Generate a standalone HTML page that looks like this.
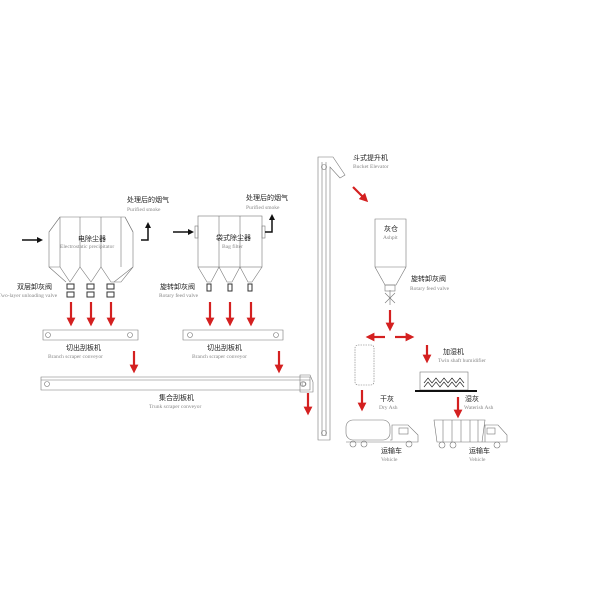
<!DOCTYPE html><html><head><meta charset="utf-8"><style>body{margin:0;background:#fff}svg{display:block}
.t{font-family:"Liberation Sans","Noto Sans CJK SC",sans-serif;font-size:7px;fill:#222}
.e{font-family:"Liberation Serif",serif;font-size:5.5px;fill:#888}
</style></head><body>
<svg width="605" height="605" viewBox="0 0 605 605" xmlns="http://www.w3.org/2000/svg">
<defs>
<marker id="r" markerWidth="4" markerHeight="4" refX="2" refY="2" orient="auto" markerUnits="strokeWidth"><path d="M0,0L4,2L0,4z" fill="#d42020"/></marker>
<marker id="k" markerWidth="4" markerHeight="4" refX="2" refY="2" orient="auto" markerUnits="strokeWidth"><path d="M0,0L4,2L0,4z" fill="#111"/></marker>
</defs>
<g fill="none" stroke="#777" stroke-width="0.6">
<!-- ESP -->
<path d="M60,217H125L133,232V267L121,282L111,282L101,267L91,282L80,267L70,282L60,267L49,267V232Z"/>
<path d="M49,267L66,282M133,267L114,282M60,217V267M80,217V267M101,217V267M121,217V267M49,232L60,217M133,232L125,217"/>
<!-- Bag filter -->
<rect x="198" y="216" width="64" height="51"/>
<path d="M219,216V267M240,216V267M198,267L207,282L211,282L219,267L227,282L232,282L240,267L248,282L252,282L262,267"/>
<rect x="195" y="226" width="3" height="12"/><rect x="262" y="226" width="3" height="12"/>
<!-- branch conveyors -->
<path d="M43,330H138V340H43Z M183,330H283V340H183Z"/>
<circle cx="48" cy="335" r="2.5"/><circle cx="130" cy="335" r="2.5"/>
<circle cx="190" cy="335" r="2.5"/><circle cx="276" cy="335" r="2.5"/>
<!-- trunk -->
<path d="M41,377H310V390H41Z M41,380H310"/>
<circle cx="47" cy="384" r="2.5"/><circle cx="303" cy="384" r="2.5"/>
<!-- elevator -->
<path d="M318,157H333L345,175L340,178L330,167V440H318Z M322,162V436 M326,162V436"/>
<circle cx="324" cy="167" r="2.5"/><circle cx="324" cy="433" r="2.5"/>
<path d="M300,375H310L313,382V392H300Z"/><circle cx="304" cy="384" r="2"/>
<!-- ashpit -->
<path d="M375,219H406V267L396,285H385L375,267Z M375,267H406"/>
<rect x="385" y="285" width="10" height="6"/><path d="M385,293L395,303M395,293L385,303M390,290V305"/>
<rect x="355" y="345" width="19" height="40" rx="3" stroke-dasharray="1.5,1"/>
<!-- humidifier -->
<rect x="420" y="372" width="48" height="18"/>
<!-- trucks -->
<rect x="346" y="420" width="44" height="20" rx="7"/><path d="M390,440H392V425H408L418,435V442H346"/><rect x="399" y="428" width="9" height="6"/>
<circle cx="353" cy="444" r="3"/><circle cx="364" cy="444" r="3"/><circle cx="409" cy="444" r="3"/>
<path d="M434,420H485L482,442H437Z M443,420V442M452,420V442M461,420V442M470,420V442M478,420V442 M485,442V425H498L507,435V442H437"/><rect x="487" y="428" width="8" height="6"/>
<circle cx="442" cy="445" r="3"/><circle cx="453" cy="445" r="3"/><circle cx="497" cy="445" r="3"/>
</g>
<path d="M424,383l4,-5l4,5l4,-5l4,5l4,-5l4,5l4,-5l4,5l4,-5l4,5 M424,387l4,-5l4,5l4,-5l4,5l4,-5l4,5l4,-5l4,5l4,-5l4,5" fill="none" stroke="#222" stroke-width="0.7"/>
<path d="M415,391H477" stroke="#111" stroke-width="2"/>
<!-- valves -->
<g fill="#fff" stroke="#333" stroke-width="1">
<rect x="67" y="284" width="7" height="5"/><rect x="67" y="292" width="7" height="5"/>
<rect x="87" y="284" width="7" height="5"/><rect x="87" y="292" width="7" height="5"/>
<rect x="107" y="284" width="7" height="5"/><rect x="107" y="292" width="7" height="5"/>
<rect x="207" y="284" width="4" height="7"/><rect x="228" y="284" width="4" height="7"/><rect x="248" y="284" width="4" height="7"/>
</g>
<!-- black arrows -->
<g stroke="#111" stroke-width="1.5" fill="none">
<path d="M22,240H40" marker-end="url(#k)"/><path d="M141,240H148V225" marker-end="url(#k)"/>
<path d="M173,232H191" marker-end="url(#k)"/><path d="M265,232H272V217" marker-end="url(#k)"/>
</g>
<!-- red arrows -->
<g stroke="#d42020" stroke-width="2.2" fill="none">
<path d="M71,302V322" marker-end="url(#r)"/><path d="M91,302V322" marker-end="url(#r)"/><path d="M111,302V322" marker-end="url(#r)"/>
<path d="M210,302V322" marker-end="url(#r)"/><path d="M230,302V322" marker-end="url(#r)"/><path d="M251,302V322" marker-end="url(#r)"/>
<path d="M134,351V369" marker-end="url(#r)"/><path d="M279,351V369" marker-end="url(#r)"/>
<path d="M308,393V411" marker-end="url(#r)"/>
<path d="M353,187L365,199" marker-end="url(#r)"/>
<path d="M390,310V327" marker-end="url(#r)"/>
<path d="M385,337H370" marker-end="url(#r)"/><path d="M395,337H410" marker-end="url(#r)"/>
<path d="M362,390V407" marker-end="url(#r)"/><path d="M427,345V359" marker-end="url(#r)"/><path d="M458,397V414" marker-end="url(#r)"/>
</g>
<!-- text -->
<text class="t" x="127" y="202">处理后的烟气</text><text class="e" x="127" y="211">Purified smoke</text>
<text class="t" x="246" y="200">处理后的烟气</text><text class="e" x="246" y="209">Purified smoke</text>
<text class="t" x="78" y="241">电除尘器</text><text class="e" x="60" y="248">Electrostatic precipitator</text>
<text class="t" x="216" y="240">袋式除尘器</text><text class="e" x="222" y="248">Bag filter</text>
<text class="t" x="17" y="289">双层卸灰阀</text><text class="e" x="-2" y="297">Two-layer unloading valve</text>
<text class="t" x="160" y="289">旋转卸灰阀</text><text class="e" x="159" y="297">Rotary feed valve</text>
<text class="t" x="66" y="350">切出刮板机</text><text class="e" x="48" y="358">Branch scraper conveyor</text>
<text class="t" x="207" y="350">切出刮板机</text><text class="e" x="192" y="358">Branch scraper conveyor</text>
<text class="t" x="159" y="400">集合刮板机</text><text class="e" x="149" y="408">Trunk scraper conveyor</text>
<text class="t" x="353" y="160">斗式提升机</text><text class="e" x="353" y="168">Bucket Elevator</text>
<text class="t" x="384" y="231">灰仓</text><text class="e" x="383" y="239">Ashpit</text>
<text class="t" x="411" y="281">旋转卸灰阀</text><text class="e" x="410" y="290">Rotary feed valve</text>
<text class="t" x="443" y="354">加湿机</text><text class="e" x="438" y="362">Twin shaft humidifier</text>
<text class="t" x="380" y="401">干灰</text><text class="e" x="379" y="409">Dry Ash</text>
<text class="t" x="465" y="401">湿灰</text><text class="e" x="464" y="409">Waterish Ash</text>
<text class="t" x="381" y="453">运输车</text><text class="e" x="381" y="461">Vehicle</text>
<text class="t" x="469" y="453">运输车</text><text class="e" x="469" y="461">Vehicle</text>
</svg>
</body></html>
